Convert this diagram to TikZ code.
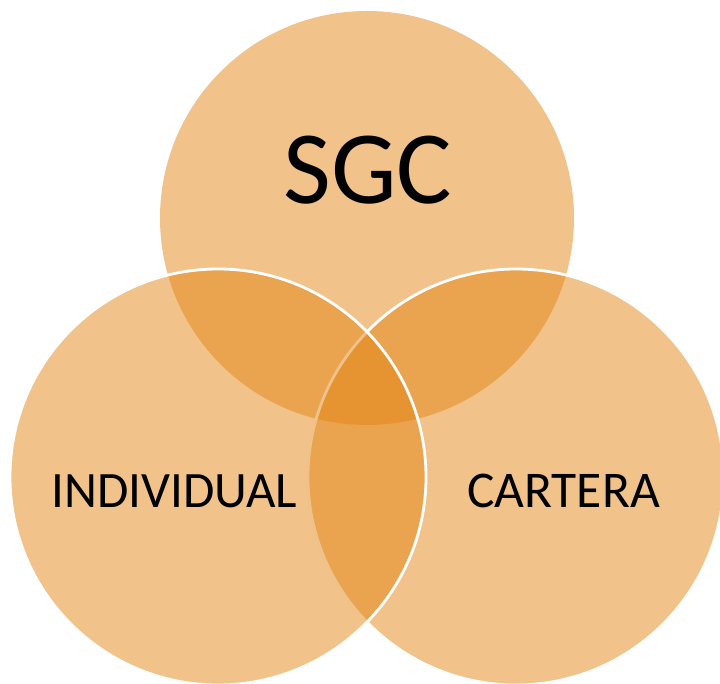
\documentclass[tikz,border=0pt]{standalone}
\usepackage{fontspec}
\setmainfont{Carlito}
\definecolor{venn}{RGB}{227,133,21}
\begin{document}
\begin{tikzpicture}[x=1pt,y=1pt,
  vennset/.style={fill=venn,fill opacity=0.5},
  vennedge/.style={vennset,draw=white,draw opacity=1,line width=2.8pt},
  lab/.style={inner sep=0pt,text=black,text opacity=1}]
\useasboundingbox (0,0) rectangle (720,684);
\clip (0,0) rectangle (720,684);
\path[vennset] (367,466) circle[radius=207];
\path[vennedge] (516,207) circle[radius=208];
\path[vennedge] (218,207) circle[radius=208];
\node[lab,font=\fontsize{104}{104}\selectfont] (sgc) at (368,514) {SGC};
\node[lab,font=\fontsize{51}{52}\selectfont] (ind) at (174.5,193) {INDIVIDUAL};
\node[lab,font=\fontsize{51.5}{52}\selectfont] (car) at (563.5,193) {CARTERA};
\end{tikzpicture}
\end{document}
